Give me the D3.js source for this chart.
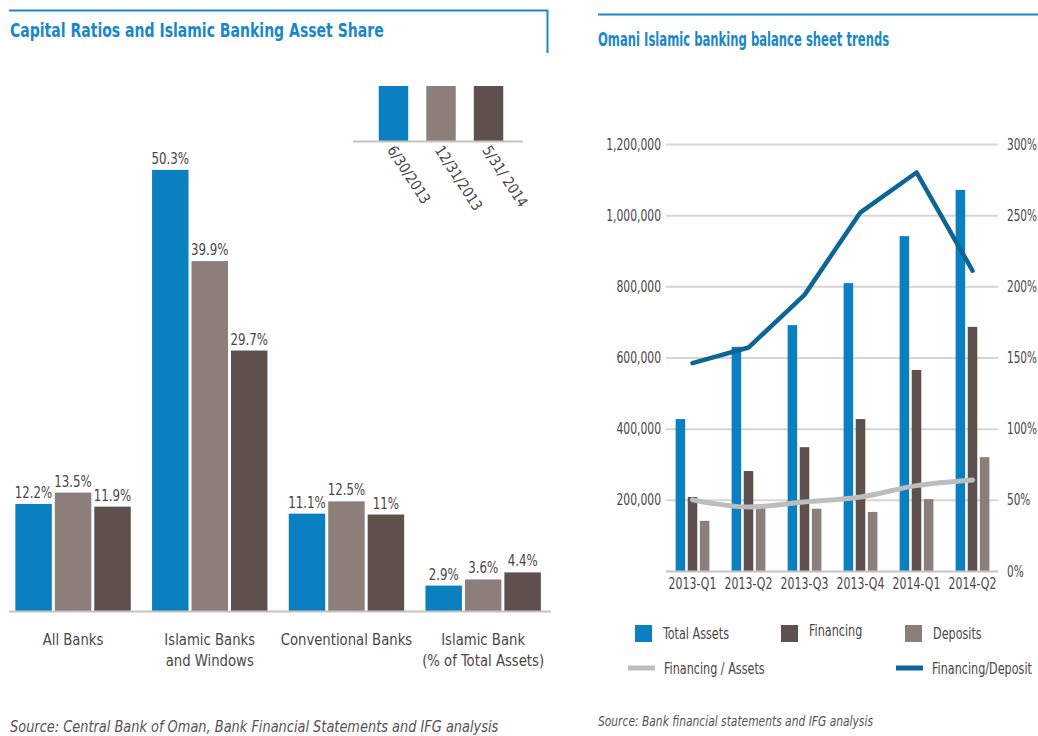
<!DOCTYPE html>
<html>
<head>
<meta charset="utf-8">
<script src="https://cdn.jsdelivr.net/npm/d3@7"></script>
<style>
  body { margin: 0; background: #fff; }
  svg { display: block; }
  text { font-family: "DejaVu Sans", sans-serif; font-stretch: condensed; fill: #4d4545; }
  .title { font-weight: bold; fill: #1c87c8; }
  .src { font-style: italic; fill: #5a5252; }
</style>
</head>
<body>
<svg id="chart" width="1038" height="736"></svg>
<script>
// left chart data
const capCategories = ["All Banks", "Islamic Banks\nand Windows", "Conventional Banks", "Islamic Bank\n(% of Total Assets)"];
const capDates = ["6/30/2013", "12/31/2013", "5/31/ 2014"];
const capValues = [
  [12.2, 13.5, 11.9],
  [50.3, 39.9, 29.7],
  [11.1, 12.5, 11.0],
  [2.9, 3.6, 4.4]
];
const capLabels = [
  ["12.2%", "13.5%", "11.9%"],
  ["50.3%", "39.9%", "29.7%"],
  ["11.1%", "12.5%", "11%"],
  ["2.9%", "3.6%", "4.4%"]
];

// right chart data
const quarters = ["2013-Q1", "2013-Q2", "2013-Q3", "2013-Q4", "2014-Q1", "2014-Q2"];
const totalAssets = [427000, 630000, 691000, 809000, 941000, 1071000];
const financing = [208000, 281000, 348000, 427000, 565000, 686000];
const deposits = [141000, 180000, 175000, 166000, 202000, 320000];
const finToAssets = [0.50, 0.45, 0.485, 0.52, 0.60, 0.64];
const finToDeposit = [1.46, 1.57, 1.94, 2.52, 2.80, 2.11];
const leftTicks = [200000, 400000, 600000, 800000, 1000000, 1200000];
const rightTicks = [0, 0.5, 1, 1.5, 2, 2.5, 3];

const blue = "#0a80c0", gray = "#8c7f7a", dark = "#5e514d";
const seriesColors = [blue, gray, dark];

const svg = d3.select("#chart");

// squeeze text horizontally, the original uses a narrow face
function narrow(sel, k) {
  sel.each(function() {
    const t = d3.select(this);
    const x = +t.attr("x") || 0, y = +t.attr("y") || 0;
    const base = t.attr("transform") || "";
    t.attr("transform", `${base} translate(${x},${y}) scale(${k},1) translate(${-x},${-y})`);
  });
}

// ---------- left chart ----------
const L = svg.append("g");

L.append("path")
  .attr("d", "M9,10.5H547.5V53")
  .attr("fill", "none").attr("stroke", "#1c87c8").attr("stroke-width", 2);
L.append("text").attr("class", "title").attr("x", 10).attr("y", 37).attr("font-size", 20)
  .text("Capital Ratios and Islamic Banking Asset Share").call(narrow, 0.78);

const x0 = d3.scaleBand().domain(capCategories).range([4.7, 551.5]);
const x1 = d3.scaleBand().domain(d3.range(3)).range([0, x0.bandwidth()])
  .paddingInner(0.076).paddingOuter(0.27);
const yL = d3.scaleLinear().domain([0, 55]).range([611, 611 - 55 * 8.77]);

const grp = L.selectAll("g.grp").data(capCategories).join("g")
  .attr("class", "grp")
  .attr("transform", d => `translate(${x0(d)},0)`);

grp.each(function(cat, ci) {
  const g = d3.select(this);
  g.selectAll("rect").data(capValues[ci]).join("rect")
    .attr("x", (d, i) => x1(i))
    .attr("width", x1.bandwidth())
    .attr("y", d => yL(d))
    .attr("height", d => yL(0) - yL(d))
    .attr("fill", (d, i) => seriesColors[i]);
  g.selectAll("text.val").data(capValues[ci]).join("text")
    .attr("class", "val")
    .attr("x", (d, i) => x1(i) + x1.bandwidth() / 2)
    .attr("y", d => yL(d) - 6)
    .attr("text-anchor", "middle")
    .attr("font-size", 16)
    .text((d, i) => capLabels[ci][i])
    .call(narrow, 0.82);
});

L.append("line").attr("x1", 9).attr("x2", 551).attr("y1", 611.5).attr("y2", 611.5)
  .attr("stroke", "#c8c2c0").attr("stroke-width", 2);

capCategories.forEach(c => {
  const cx = x0(c) + x0.bandwidth() / 2;
  c.split("\n").forEach((ln, i) => L.append("text")
    .attr("x", cx).attr("y", 645 + i * 21)
    .attr("text-anchor", "middle")
    .attr("font-size", 16)
    .text(ln).call(narrow, 0.92));
});

// legend (little bar chart with rotated dates)
const legX = d3.scaleBand().domain(capDates).range([374, 508]).paddingInner(0.38).paddingOuter(0.1);
L.selectAll("rect.leg").data(capDates).join("rect")
  .attr("class", "leg")
  .attr("x", d => legX(d))
  .attr("width", legX.bandwidth())
  .attr("y", 86).attr("height", 55)
  .attr("fill", (d, i) => seriesColors[i]);
L.append("line").attr("x1", 353).attr("x2", 523).attr("y1", 141.5).attr("y2", 141.5)
  .attr("stroke", "#c8c2c0").attr("stroke-width", 2);
L.selectAll("text.leg").data(capDates).join("text")
  .attr("class", "leg")
  .attr("font-size", 15)
  .attr("transform", d => `translate(${legX(d) + 8},150) rotate(57) scale(0.95,1)`)
  .text(d => d);

L.append("text").attr("class", "src").attr("x", 10).attr("y", 732).attr("font-size", 15)
  .text("Source: Central Bank of Oman, Bank Financial Statements and IFG analysis").call(narrow, 0.96);

// ---------- right chart ----------
const R = svg.append("g");
R.append("line").attr("x1", 598).attr("x2", 1038).attr("y1", 14.5).attr("y2", 14.5)
  .attr("stroke", "#1c87c8").attr("stroke-width", 2);
R.append("text").attr("class", "title").attr("x", 598).attr("y", 46).attr("font-size", 19)
  .text("Omani Islamic banking balance sheet trends").call(narrow, 0.68);

const qx = d3.scaleBand().domain(quarters).range([664.5, 1000.5]);
const qx1 = d3.scaleBand().domain(d3.range(3)).range([0, qx.bandwidth()])
  .paddingInner(0.21).paddingOuter(0.92);
const yA = d3.scaleLinear().domain([0, 1200000]).range([571, 144]);
const yP = d3.scaleLinear().domain([0, 3]).range([571, 144]);

// gridlines + left labels
const axL = R.append("g").attr("transform", "translate(666,0)")
  .call(d3.axisLeft(yA).tickValues(leftTicks).tickSize(-332).tickPadding(5)
    .tickFormat(d3.format(",")));
axL.select(".domain").remove();
axL.selectAll("line").attr("stroke", "#d9d4d2").attr("stroke-width", 2);
axL.selectAll("text").attr("font-size", 16).attr("fill", "#4d4545")
  .style("font-family", "'DejaVu Sans', sans-serif").style("font-stretch", "condensed")
  .call(narrow, 0.75);

const axR = R.append("g").attr("transform", "translate(1003,0)")
  .call(d3.axisRight(yP).tickValues(rightTicks).tickSize(0).tickPadding(4)
    .tickFormat(d3.format(".0%")));
axR.select(".domain").remove();
axR.selectAll("text").attr("font-size", 16).attr("fill", "#4d4545")
  .style("font-family", "'DejaVu Sans', sans-serif").style("font-stretch", "condensed")
  .call(narrow, 0.73);

const barSeries = [totalAssets, financing, deposits];
const barColors = [blue, dark, gray];
barSeries.forEach((vals, si) => {
  R.selectAll("rect.s" + si).data(vals).join("rect")
    .attr("class", "s" + si)
    .attr("x", (d, i) => qx(quarters[i]) + qx1(si))
    .attr("width", qx1.bandwidth())
    .attr("y", d => yA(d))
    .attr("height", d => yA(0) - yA(d))
    .attr("fill", barColors[si]);
});

R.append("line").attr("x1", 666).attr("x2", 998).attr("y1", 571.5).attr("y2", 571.5)
  .attr("stroke", "#c8c2c0").attr("stroke-width", 2);

const axB = R.append("g").attr("transform", "translate(0,572)")
  .call(d3.axisBottom(qx).tickSize(0).tickPadding(6));
axB.select(".domain").remove();
axB.selectAll("text").attr("font-size", 16).attr("fill", "#4d4545")
  .style("font-family", "'DejaVu Sans', sans-serif").style("font-stretch", "condensed")
  .call(narrow, 0.76);

const line = (vals, curve) => d3.line()
  .x((d, i) => qx(quarters[i]) + qx.bandwidth() / 2)
  .y(d => yP(d))
  .curve(curve)(vals);

R.append("path").attr("d", line(finToAssets, d3.curveMonotoneX))
  .attr("fill", "none").attr("stroke", "#bdbdbd").attr("stroke-width", 5)
  .attr("stroke-linecap", "round");
R.append("path").attr("d", line(finToDeposit, d3.curveLinear))
  .attr("fill", "none").attr("stroke", "#0c6594").attr("stroke-width", 4.5)
  .attr("stroke-linecap", "round").attr("stroke-linejoin", "round");

// legend
const legItems = [
  { label: "Total Assets", type: "box", color: blue, x: 635, y: 625 },
  { label: "Financing", type: "box", color: dark, x: 781, y: 625 },
  { label: "Deposits", type: "box", color: gray, x: 905, y: 625 },
  { label: "Financing  / Assets", type: "line", color: "#bdbdbd", x: 628, y: 668 },
  { label: "Financing/Deposit", type: "line", color: "#0c6594", x: 896, y: 668 }
];
const lg = R.selectAll("g.lg").data(legItems).join("g").attr("class", "lg")
  .attr("transform", d => `translate(${d.x},${d.y})`);
lg.filter(d => d.type === "box").append("rect")
  .attr("width", 17).attr("height", 17).attr("fill", d => d.color);
lg.filter(d => d.type === "line").append("line")
  .attr("x1", 0).attr("x2", 27).attr("y1", 0).attr("y2", 0)
  .attr("stroke", d => d.color).attr("stroke-width", 5);
lg.append("text")
  .attr("x", d => d.type === "box" ? 28 : 36)
  .attr("y", d => d.type === "box" ? (d.label === "Financing" ? 11 : 14) : 6)
  .attr("font-size", 16)
  .text(d => d.label)
  .call(narrow, 0.78);

R.append("text").attr("class", "src").attr("x", 598).attr("y", 726).attr("font-size", 14)
  .text("Source: Bank financial statements and IFG analysis").call(narrow, 0.85);
</script>
</body>
</html>
